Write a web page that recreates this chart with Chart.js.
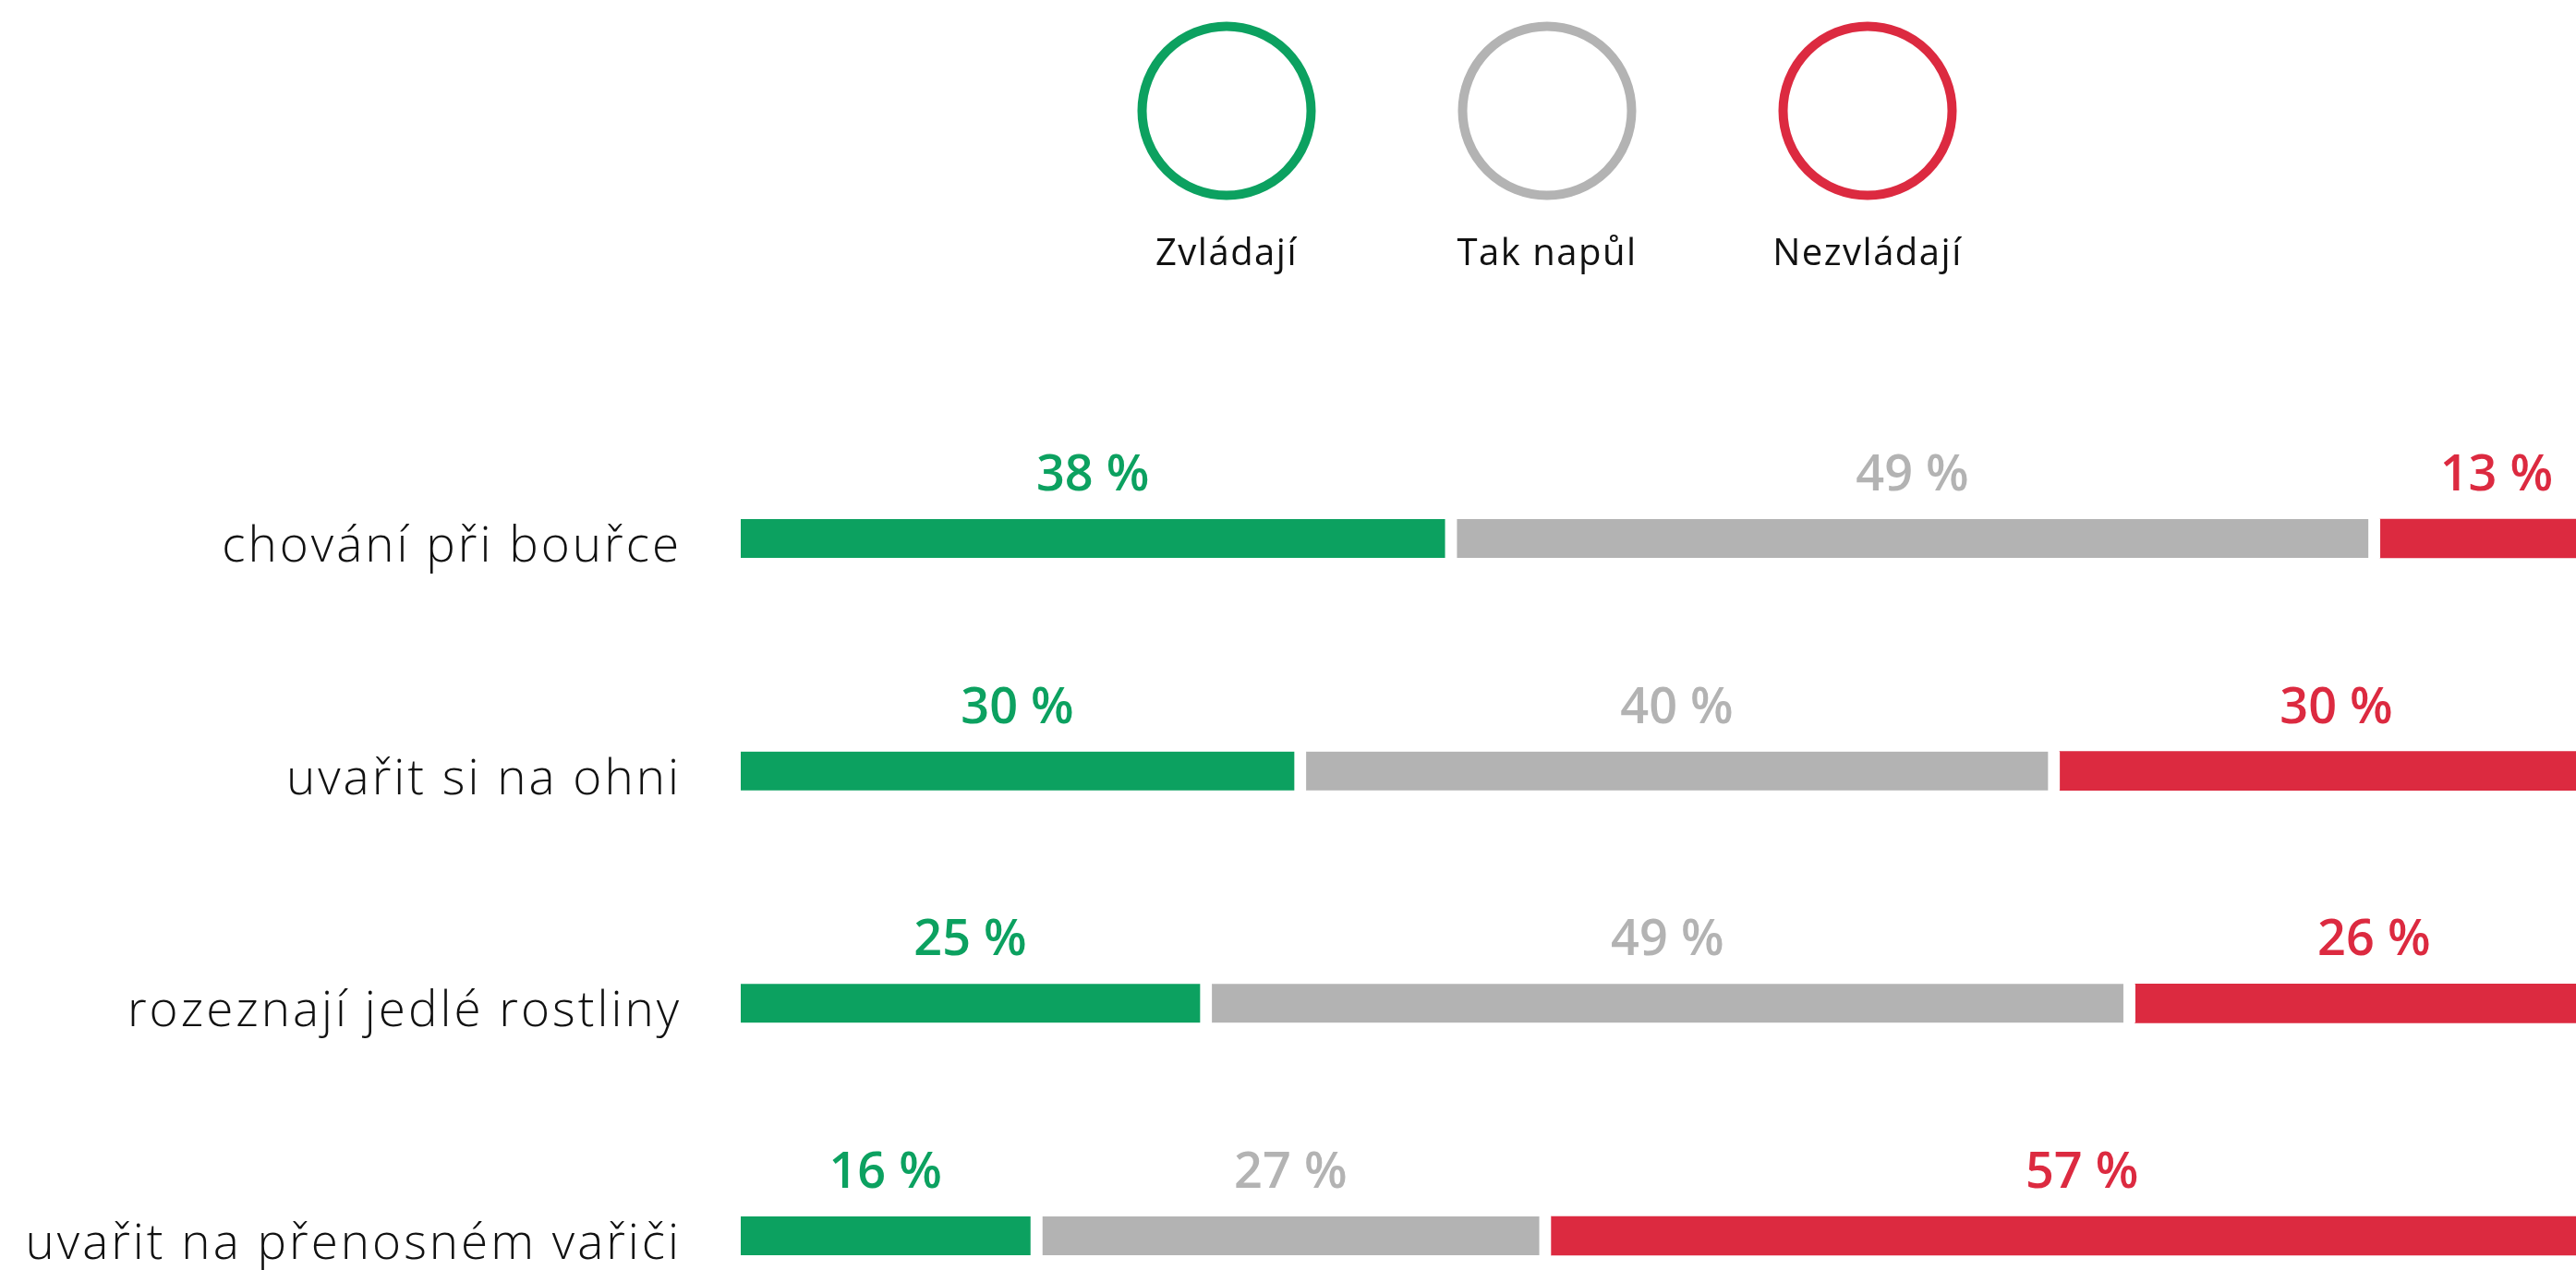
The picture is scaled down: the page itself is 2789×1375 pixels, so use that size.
<!DOCTYPE html>
<html><head><meta charset="utf-8">
<script src="https://cdn.jsdelivr.net/npm/chart.js@4/dist/chart.umd.min.js"></script>
<style>html,body{margin:0;padding:0;background:#fff;overflow:hidden}#wrap{width:2789px;height:1375px;position:relative}</style>
</head><body><div id="wrap"><canvas id="c" width="2789" height="1375"></canvas></div>
<script>
const categories = ['chování při bouřce', 'uvařit si na ohni', 'rozeznají jedlé rostliny', 'uvařit na přenosném vařiči'];
const seriesNames = ['Zvládají', 'Tak napůl', 'Nezvládají'];
const zvladaji = [38, 30, 25, 16];
const takNapul = [49, 40, 49, 27];
const nezvladaji = [13, 30, 26, 57];
const seriesColors = ['#0ca160', '#b3b3b3', '#dc2a40'];

const GAP = 13;

const spacingPlugin = {
  id: 'letterSpacing',
  beforeDraw(chart) { chart.ctx.letterSpacing = '3px'; },
  beforeUpdate(chart) { chart.ctx.letterSpacing = '3px'; },
  beforeDatasetsDraw(chart) { chart.ctx.letterSpacing = '0px'; }
};

const legendPlugin = {
  id: 'circleLegend',
  afterDraw(chart) {
    const ctx = chart.ctx;
    const cx0 = 1328, spacing = 347, cy = 120, r = 91.5;
    ctx.save();
    ctx.letterSpacing = '1.5px';
    chart.data.datasets.forEach((ds, i) => {
      const cx = cx0 + i * spacing;
      ctx.beginPath();
      ctx.arc(cx, cy, r, 0, Math.PI * 2);
      ctx.lineWidth = 10;
      ctx.strokeStyle = ds.backgroundColor;
      ctx.stroke();
      ctx.fillStyle = '#111';
      ctx.font = '400 40px "Open Sans"';
      ctx.textAlign = 'center';
      ctx.textBaseline = 'alphabetic';
      ctx.fillText(ds.label, cx, 287);
    });
    ctx.restore();
  }
};

const valueLabelPlugin = {
  id: 'valueLabels',
  afterDatasetsDraw(chart) {
    const ctx = chart.ctx;
    const xs = chart.scales.x;
    ctx.save();
    ctx.letterSpacing = '0px';
    ctx.font = '600 54px "Open Sans"';
    ctx.textAlign = 'center';
    ctx.textBaseline = 'alphabetic';
    chart.data.labels.forEach((lab, j) => {
      let start = 0;
      chart.data.datasets.forEach((ds, i) => {
        const v = ds.data[j];
        const x = (xs.getPixelForValue(start) + xs.getPixelForValue(start + v) - GAP) / 2;
        const bar = chart.getDatasetMeta(i).data[j];
        const top = bar.y - bar.height / 2;
        ctx.fillStyle = ds.backgroundColor;
        ctx.fillText(v + ' %', x, top - 31);
        start += v;
      });
    });
    ctx.restore();
  }
};

const mk = (label, data, i) => ({
  label, data,
  backgroundColor: seriesColors[i],
  borderColor: '#ffffff',
  borderWidth: i < 2 ? {top: 0, bottom: 0, left: 0, right: GAP} : 0,
  borderSkipped: false,
  barThickness: 42,
  clip: false
});

new Chart(document.getElementById('c'), {
  type: 'bar',
  data: {
    labels: categories,
    datasets: [
      mk(seriesNames[0], zvladaji, 0),
      mk(seriesNames[1], takNapul, 1),
      mk(seriesNames[2], nezvladaji, 2)
    ]
  },
  options: {
    indexAxis: 'y',
    responsive: false,
    devicePixelRatio: 1,
    animation: false,
    layout: {padding: {top: 583, bottom: 37, left: 0, right: 0}},
    plugins: {legend: {display: false}, tooltip: {enabled: false}},
    scales: {
      x: {stacked: true, min: 0, max: 97.4, display: false},
      y: {
        stacked: true,
        offset: false,
        grid: {display: false, drawTicks: false},
        border: {display: false},
        ticks: {
          color: '#111',
          font: {family: 'Open Sans', weight: 300, size: 53},
          padding: 64,
          labelOffset: 10
        },
        afterFit(scale) {
          scale.width = 802;
          scale.paddingTop = 0;
          scale.paddingBottom = 0;
        }
      }
    }
  },
  plugins: [spacingPlugin, legendPlugin, valueLabelPlugin]
});
</script>
</body></html>
